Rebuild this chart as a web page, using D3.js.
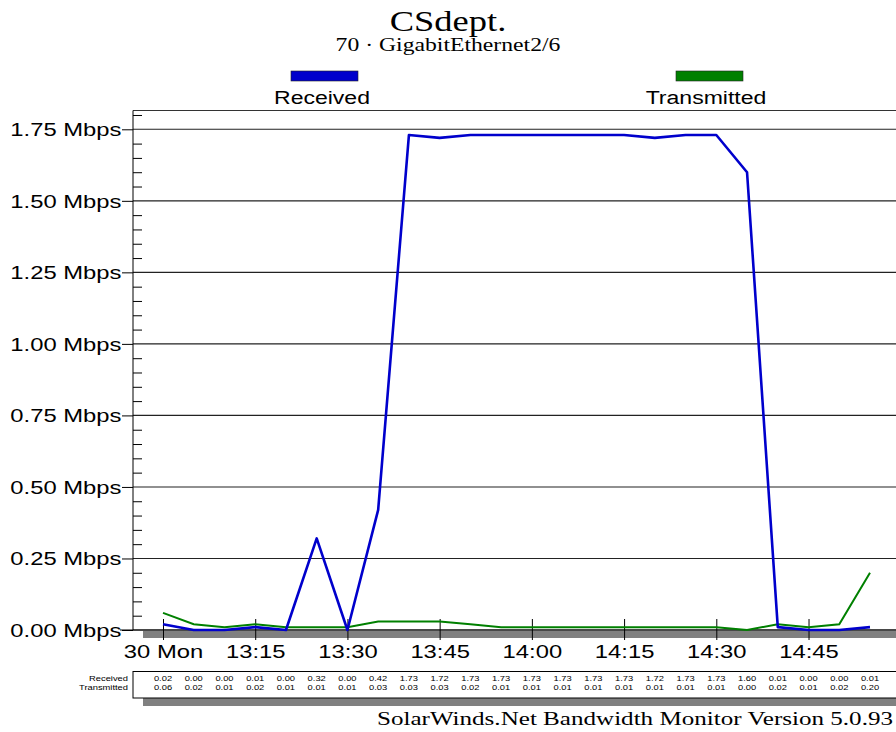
<!DOCTYPE html>
<html>
<head>
<meta charset="utf-8">
<script src="https://cdn.jsdelivr.net/npm/d3@7"></script>
<style>
  body { margin: 0; background: #fff; }
  svg { display: block; }
</style>
</head>
<body>
<svg id="chart" width="896" height="732"></svg>
<script>
// sample times (5 min polls), 30 Mon
let times = ["13:00", "13:05", "13:10", "13:15", "13:20", "13:25", "13:30", "13:35",
  "13:40", "13:45", "13:50", "13:55", "14:00", "14:05", "14:10", "14:15",
  "14:20", "14:25", "14:30", "14:35", "14:40", "14:45", "14:50", "14:55"];

// Mbps
let received = [0.02, 0.00, 0.00, 0.01, 0.00, 0.32, 0.00, 0.42, 1.73, 1.72, 1.73, 1.73,
  1.73, 1.73, 1.73, 1.73, 1.72, 1.73, 1.73, 1.60, 0.01, 0.00, 0.00, 0.01];
let transmitted = [0.06, 0.02, 0.01, 0.02, 0.01, 0.01, 0.01, 0.03, 0.03, 0.03, 0.02, 0.01,
  0.01, 0.01, 0.01, 0.01, 0.01, 0.01, 0.01, 0.00, 0.02, 0.01, 0.02, 0.20];

let xTickTimes = ["13:00", "13:15", "13:30", "13:45", "14:00", "14:15", "14:30", "14:45"];
let xTickLabels = ["30 Mon", "13:15", "13:30", "13:45", "14:00", "14:15", "14:30", "14:45"];
let yTicks = [0, 0.25, 0.5, 0.75, 1.0, 1.25, 1.5, 1.75];

let SX = 1.28; // text in the original is stretched sideways
let sans = "Arial, 'Liberation Sans', sans-serif";
let serif = "'Times New Roman', 'Liberation Serif', serif";

let parseT = d3.timeParse("%H:%M");
let svg = d3.select("#chart");

let x = d3.scaleTime()
  .domain([parseT("13:00"), parseT("14:55")])
  .range([163, 870]);
let y = d3.scaleLinear()
  .domain([0, 1.75])
  .range([630, 129.3]);

let left = 133, right = 896;

// helper for stretched text
function txt(xp, yp, str, size, family, anchor) {
  return svg.append("text")
    .attr("transform", "translate(" + xp + "," + yp + ") scale(" + SX + ",1)")
    .attr("text-anchor", anchor || "middle")
    .style("font-family", family)
    .style("font-size", size + "px")
    .attr("fill", "#000")
    .text(str);
}

// titles
txt(448, 31, "CSdept.", 28.5, serif);
txt(448, 51, "70 · GigabitEthernet2/6", 18.5, serif);

// legend
svg.append("rect").attr("x", 291).attr("y", 71).attr("width", 67).attr("height", 10)
  .attr("fill", "#0000cc").attr("stroke", "#222").attr("stroke-width", 0.6);
txt(322, 104, "Received", 18, sans);
svg.append("rect").attr("x", 676).attr("y", 71).attr("width", 67).attr("height", 10)
  .attr("fill", "#008000").attr("stroke", "#222").attr("stroke-width", 0.6);
txt(706, 104, "Transmitted", 18, sans);

// frame top + gridlines
let yTop = 110.5;
svg.append("line").attr("x1", left).attr("x2", right).attr("y1", yTop).attr("y2", yTop)
  .attr("stroke", "#333").attr("stroke-width", 1.2);
svg.append("g").selectAll("line")
  .data(yTicks)
  .join("line")
  .attr("x1", left).attr("x2", right)
  .attr("y1", d => y(d)).attr("y2", d => y(d))
  .attr("stroke", "#222").attr("stroke-width", 1.1);

// gray shadow under the plot
svg.append("rect").attr("x", 143).attr("y", 631).attr("width", right - 143).attr("height", 7)
  .attr("fill", "#808080");

// left axis
let yAxis = d3.axisLeft(y)
  .tickValues(yTicks)
  .tickSize(11)
  .tickPadding(0)
  .tickFormat(d => d.toFixed(2) + " Mbps");
let gy = svg.append("g").attr("transform", "translate(" + left + ",0)").call(yAxis);
gy.select(".domain").remove();
gy.selectAll("line").attr("stroke", "#000");
gy.selectAll("text")
  .attr("x", null).attr("dy", null)
  .attr("transform", "translate(-11.5,6.5) scale(" + SX + ",1)")
  .style("font-family", sans).style("font-size", "18.6px").attr("fill", "#000");
svg.append("line").attr("x1", left).attr("x2", left).attr("y1", yTop).attr("y2", 630)
  .attr("stroke", "#000");

// minor ticks every 0.05
let minor = d3.range(0.05, 1.81, 0.05).filter(v => Math.abs(v / 0.25 - Math.round(v / 0.25)) > 0.01);
let gm = svg.append("g").attr("transform", "translate(" + left + ",0)")
  .call(d3.axisRight(y).tickValues(minor).tickSize(9).tickFormat(""));
gm.select(".domain").remove();
gm.selectAll("line").attr("stroke", "#000");

// bottom axis
svg.append("line").attr("x1", 120).attr("x2", right).attr("y1", 630).attr("y2", 630)
  .attr("stroke", "#000").attr("stroke-width", 1.2);
let xAxis = d3.axisBottom(x)
  .tickValues(xTickTimes.map(parseT))
  .tickSize(10)
  .tickFormat((d, i) => xTickLabels[i]);
let gx = svg.append("g").attr("transform", "translate(0,630)").call(xAxis);
gx.select(".domain").remove();
gx.selectAll("line").attr("y1", -11).attr("stroke", "#000");
gx.selectAll("text")
  .attr("y", null).attr("dy", null)
  .attr("transform", "translate(0,27.5) scale(" + SX + ",1)")
  .style("font-family", sans).style("font-size", "18.6px").attr("fill", "#000");

// lines
let lineGen = d3.line()
  .x((d, i) => x(parseT(times[i])))
  .y(d => y(d));
svg.append("path").datum(transmitted)
  .attr("d", lineGen).attr("fill", "none")
  .attr("stroke", "#008000").attr("stroke-width", 2);
svg.append("path").datum(received)
  .attr("d", lineGen).attr("fill", "none")
  .attr("stroke", "#0000cc").attr("stroke-width", 2.6)
  .attr("stroke-linejoin", "round");

// values table
svg.append("rect").attr("x", 143).attr("y", 698).attr("width", right - 143).attr("height", 8)
  .attr("fill", "#808080");
svg.append("rect").attr("x", left).attr("y", 671.5).attr("width", right - left + 5).attr("height", 26.5)
  .attr("fill", "#fff").attr("stroke", "#000").attr("stroke-width", 1);
txt(128, 680.5, "Received", 7.3, sans, "end");
txt(128, 690, "Transmitted", 7.3, sans, "end");
times.forEach(function (t, i) {
  let xp = x(parseT(t));
  txt(xp, 680.5, received[i].toFixed(2), 7.3, sans);
  txt(xp, 690, transmitted[i].toFixed(2), 7.3, sans);
});

// footer
txt(893, 725, "SolarWinds.Net Bandwidth Monitor Version 5.0.93", 19.6, serif, "end");
</script>
</body>
</html>
